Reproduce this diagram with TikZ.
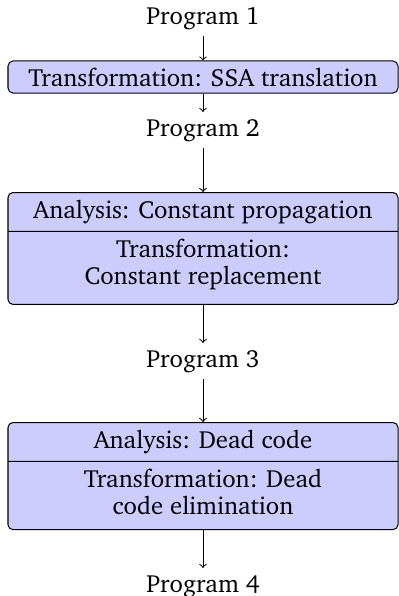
\documentclass[tikz,border=0pt]{standalone}
\usepackage[T1]{fontenc}
\usepackage{charter}
\usetikzlibrary{shapes.multipart}
\newcommand\padline[1]{\raisebox{0pt}[\height][\dimexpr\depth+3.5pt\relax]{#1}}
\begin{document}
\begin{tikzpicture}[>=to,line join=round,line width=.5pt,font=\fontsize{12.4}{13.5}\selectfont,x=0.5pt,y=-0.5pt]
			\useasboundingbox (0,0) rectangle (399,596);
			\tikzset{prog/.style={anchor=base},
				pass/.style={draw,fill=blue!20,rounded corners=2.5pt,minimum width=195pt,align=center},
				passes/.style={pass,rectangle split,rectangle split parts=2,rectangle split draw splits,inner ysep=3.6pt,anchor=north}}
			\path (203,24) node[prog] (P1) {Program 1}
			(203,136) node[prog] (P2) {Program 2}
			(203,367) node[prog] (P3) {Program 3}
			(203,592) node[prog] (P4) {Program 4};
			\node[pass] (T1) at (203,77) {Transformation: SSA translation};
			\node[passes] (T2) at (203,192) {Analysis: Constant propagation\nodepart{two}Transformation:\\\padline{Constant replacement}};
			\node[passes] (T3) at (203,422) {Analysis: Dead code\nodepart{two}Transformation: Dead\\\padline{code elimination}};
			\foreach \a/\b in {P1/T1,T1/P2,P2/T2,T2/P3,P3/T3,T3/P4}
			\draw[->] (\a.south) -- (\b.north);
			\end{tikzpicture}
\end{document}
